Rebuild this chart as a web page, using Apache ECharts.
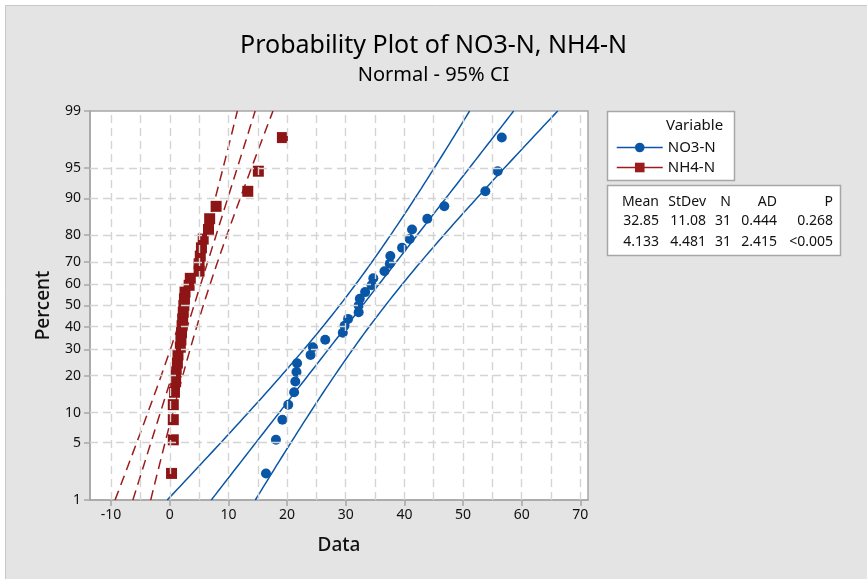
<!DOCTYPE html>
<html>
<head>
<meta charset="utf-8">
<script src="https://cdn.jsdelivr.net/npm/echarts@6/dist/echarts.min.js"></script>
<style>html,body{margin:0;padding:0;background:#fff}#c{width:867px;height:579px}</style>
</head>
<body>
<div id="c"></div>
<script>
// ---- data ----
const percentTicks = [1, 5, 10, 20, 30, 40, 50, 60, 70, 80, 90, 95, 99];
const xTicks = [-10, 0, 10, 20, 30, 40, 50, 60, 70];
const xGridValues = [-10, -5, 0, 5, 10, 15, 20, 25, 30, 35, 40, 45, 50, 55, 60, 65, 70];
// plotted percent (median rank) of each ordered observation
const percentRanks = [2.23, 5.41, 8.60, 11.78, 14.97, 18.15, 21.34, 24.52, 27.71, 30.89, 34.08,
  37.26, 40.45, 43.63, 46.82, 50.00, 53.18, 56.37, 59.55, 62.74, 65.92, 69.11, 72.29, 75.48,
  78.66, 81.85, 85.03, 88.22, 91.40, 94.59, 97.77];
const no3Values = [16.4, 18.1, 19.2, 20.2, 21.2, 21.4, 21.6, 21.7, 24.0, 24.4, 26.5,
  29.5, 29.8, 30.4, 32.2, 32.2, 32.4, 33.3, 34.4, 34.7, 36.6, 37.5, 37.6, 39.6,
  40.9, 41.3, 43.9, 46.8, 53.8, 55.9, 56.6];
const nh4Values = [0.3, 0.6, 0.6, 0.6, 0.8, 1.0, 1.1, 1.3, 1.4, 1.8, 1.9,
  2.0, 2.1, 2.2, 2.3, 2.4, 2.5, 2.6, 3.3, 3.5, 5.0, 5.0, 5.2, 5.4,
  5.7, 6.6, 6.8, 7.9, 13.3, 15.1, 19.2];
const statsHeader = ['Mean', 'StDev', 'N', 'AD', 'P'];
const no3Stats = ['32.85', '11.08', '31', '0.444', '0.268'];
const nh4Stats = ['4.133', '4.481', '31', '2.415', '<0.005'];
const no3Fit = { mean: 32.85, sd: 11.08, n: 31 };
const nh4Fit = { mean: 4.133, sd: 4.481, n: 31 };
const confLevelZ = 1.96; // 95% CI

// ---- normal probability scale ----
function normInv(p) {
  const a = [-3.969683028665376e+01, 2.209460984245205e+02, -2.759285104469687e+02, 1.383577518672690e+02, -3.066479806614716e+01, 2.506628277459239e+00];
  const b = [-5.447609879822406e+01, 1.615858368580409e+02, -1.556989798598866e+02, 6.680131188771972e+01, -1.328068155288572e+01];
  const c = [-7.784894002430293e-03, -3.223964580411365e-01, -2.400758277161838e+00, -2.549732539343734e+00, 4.374664141464968e+00, 2.938163982698783e+00];
  const d = [7.784695709041462e-03, 3.224671290700398e-01, 2.445134137142996e+00, 3.754408661907416e+00];
  const pl = 0.02425, ph = 1 - pl;
  let q, r;
  if (p < pl) {
    q = Math.sqrt(-2 * Math.log(p));
    return (((((c[0]*q+c[1])*q+c[2])*q+c[3])*q+c[4])*q+c[5]) / ((((d[0]*q+d[1])*q+d[2])*q+d[3])*q+1);
  }
  if (p <= ph) {
    q = p - 0.5; r = q*q;
    return (((((a[0]*r+a[1])*r+a[2])*r+a[3])*r+a[4])*r+a[5])*q / (((((b[0]*r+b[1])*r+b[2])*r+b[3])*r+b[4])*r+1);
  }
  q = Math.sqrt(-2 * Math.log(1 - p));
  return -(((((c[0]*q+c[1])*q+c[2])*q+c[3])*q+c[4])*q+c[5]) / ((((d[0]*q+d[1])*q+d[2])*q+d[3])*q+1);
}
const zOf = pct => normInv(pct / 100);
const zMin = zOf(percentTicks[0]);
const zMax = zOf(percentTicks[percentTicks.length - 1]);
const yTickZ = percentTicks.map(zOf);

function points(values) { return values.map((v, i) => [v, zOf(percentRanks[i])]); }
// fitted line and 95% confidence bounds of the percentiles (x as function of z)
function fitCurve(fit, side) {
  const out = [];
  const steps = 80;
  for (let k = 0; k <= steps; k++) {
    const z = zMin + (zMax - zMin) * k / steps;
    const se = fit.sd * Math.sqrt((1 + z * z / 2) / fit.n);
    out.push([fit.mean + fit.sd * z + side * confLevelZ * se, z]);
  }
  return out;
}

const BLUE = '#0a56a6';
const RED = '#8e1515';
const RED_LINE = '#9c1c1c';
const FONT = '"Noto Sans", "Open Sans", sans-serif';

const chart = echarts.init(document.getElementById('c'), null, { renderer: 'canvas' });

const gridMarks = {
  silent: true, symbol: 'none', label: { show: false },
  lineStyle: { color: '#d4d4d4', type: [8, 5], width: 1.4 },
  data: xGridValues.map(v => ({ xAxis: v })).concat(yTickZ.slice(1, -1).map(v => ({ yAxis: v })))
};

function lineSeries(name, data, color, dashed, withSymbol) {
  return {
    name: name, type: 'line', data: data, showSymbol: false, smooth: false,
    symbol: withSymbol, symbolSize: withSymbol === 'rect' ? 11 : 10,
    lineStyle: { color: color, width: 1.5, type: dashed ? [10, 6] : 'solid' },
    itemStyle: { color: color }, z: 3, silent: true
  };
}

const statsCols = [659, 706, 731, 777, 833];
const statsRows = [202, 221, 242];
const statsTexts = [];
[statsHeader, no3Stats, nh4Stats].forEach((row, r) => {
  row.forEach((t, ci) => {
    statsTexts.push({ type: 'text', x: statsCols[ci], y: statsRows[r], z: 2,
      style: { text: t, fill: '#111', font: '14px ' + FONT, textAlign: 'right', textVerticalAlign: 'middle' } });
  });
});

chart.setOption({
  backgroundColor: '#ffffff',
  animation: false,
  textStyle: { fontFamily: FONT },
  title: [
    { text: 'Probability Plot of NO3-N, NH4-N', left: 'center', top: 28,
      textStyle: { fontSize: 25, fontWeight: 'normal', color: '#000', fontFamily: FONT } },
    { text: 'Normal - 95% CI', left: 'center', top: 60,
      textStyle: { fontSize: 20, fontWeight: 'normal', color: '#000', fontFamily: FONT } }
  ],
  graphic: [
    { type: 'rect', z: -10, silent: true, shape: { x: 5.5, y: 5.5, width: 870, height: 580 },
      style: { fill: '#e4e4e4', stroke: '#c8c8c8', lineWidth: 1 } },
    { type: 'rect', z: 1, silent: true, shape: { x: 607.5, y: 111.5, width: 127, height: 69 },
      style: { fill: '#fff', stroke: '#a6a6a6', lineWidth: 1.5 } },
    { type: 'text', z: 2, x: 666, y: 126, style: { text: 'Variable', fill: '#111', font: '15px ' + FONT, textVerticalAlign: 'middle' } },
    { type: 'rect', z: 1, silent: true, shape: { x: 607.5, y: 185.5, width: 233, height: 70 },
      style: { fill: '#fff', stroke: '#a6a6a6', lineWidth: 1.5 } }
  ].concat(statsTexts),
  legend: {
    data: ['NO3-N', 'NH4-N'], orient: 'vertical', left: 611, top: 135,
    itemWidth: 46, itemHeight: 12, itemGap: 5, selectedMode: false, padding: [5, 5],
    textStyle: { fontSize: 15, color: '#111', fontFamily: FONT },
    lineStyle: { type: 'solid', width: 1.5 }, z: 5
  },
  grid: { left: 90, right: 279, top: 111, bottom: 79, show: true, backgroundColor: '#fff',
    borderColor: '#a6a6a6', borderWidth: 1.5 },
  xAxis: {
    type: 'value', min: -13.6, max: 71.3,
    name: 'Data', nameLocation: 'middle', nameGap: 36,
    nameTextStyle: { fontSize: 19, color: '#111', fontFamily: FONT, fontWeight: 500 },
    axisLine: { show: true, onZero: false, lineStyle: { color: '#a6a6a6', width: 1.5 } },
    axisTick: { show: true, customValues: xTicks, length: 6, lineStyle: { color: '#a6a6a6', width: 1.5 } },
    axisLabel: { customValues: xTicks, fontSize: 14, color: '#111', margin: 8, fontFamily: FONT },
    splitLine: { show: false }
  },
  yAxis: {
    type: 'value', min: zMin, max: zMax,
    name: 'Percent', nameLocation: 'middle', nameGap: 37,
    nameTextStyle: { fontSize: 19, color: '#111', fontFamily: FONT, fontWeight: 500 },
    axisLine: { show: true, onZero: false, lineStyle: { color: '#a6a6a6', width: 1.5 } },
    axisTick: { show: true, customValues: yTickZ, length: 6, lineStyle: { color: '#a6a6a6', width: 1.5 } },
    axisLabel: {
      customValues: yTickZ, fontSize: 14, color: '#111', margin: 9, fontFamily: FONT,
      formatter: function (v) {
        for (let i = 0; i < yTickZ.length; i++) if (Math.abs(yTickZ[i] - v) < 1e-6) return String(percentTicks[i]);
        return '';
      }
    },
    splitLine: { show: false }
  },
  series: [
    { name: 'grid', type: 'line', data: [], markLine: gridMarks, z: 1, silent: true },
    lineSeries('NO3-N', fitCurve(no3Fit, 0), BLUE, false, 'circle'),
    lineSeries('NO3-N lower', fitCurve(no3Fit, -1), BLUE, false, 'none'),
    lineSeries('NO3-N upper', fitCurve(no3Fit, 1), BLUE, false, 'none'),
    lineSeries('NH4-N', fitCurve(nh4Fit, 0), RED_LINE, true, 'rect'),
    lineSeries('NH4-N lower', fitCurve(nh4Fit, -1), RED_LINE, true, 'none'),
    lineSeries('NH4-N upper', fitCurve(nh4Fit, 1), RED_LINE, true, 'none'),
    { name: 'NO3-N points', type: 'scatter', data: points(no3Values), symbol: 'circle', symbolSize: 10,
      itemStyle: { color: BLUE, opacity: 1 }, z: 4, silent: true },
    { name: 'NH4-N points', type: 'scatter', data: points(nh4Values), symbol: 'rect', symbolSize: 11,
      itemStyle: { color: RED, opacity: 1 }, z: 4, silent: true }
  ]
});
</script>
</body>
</html>
